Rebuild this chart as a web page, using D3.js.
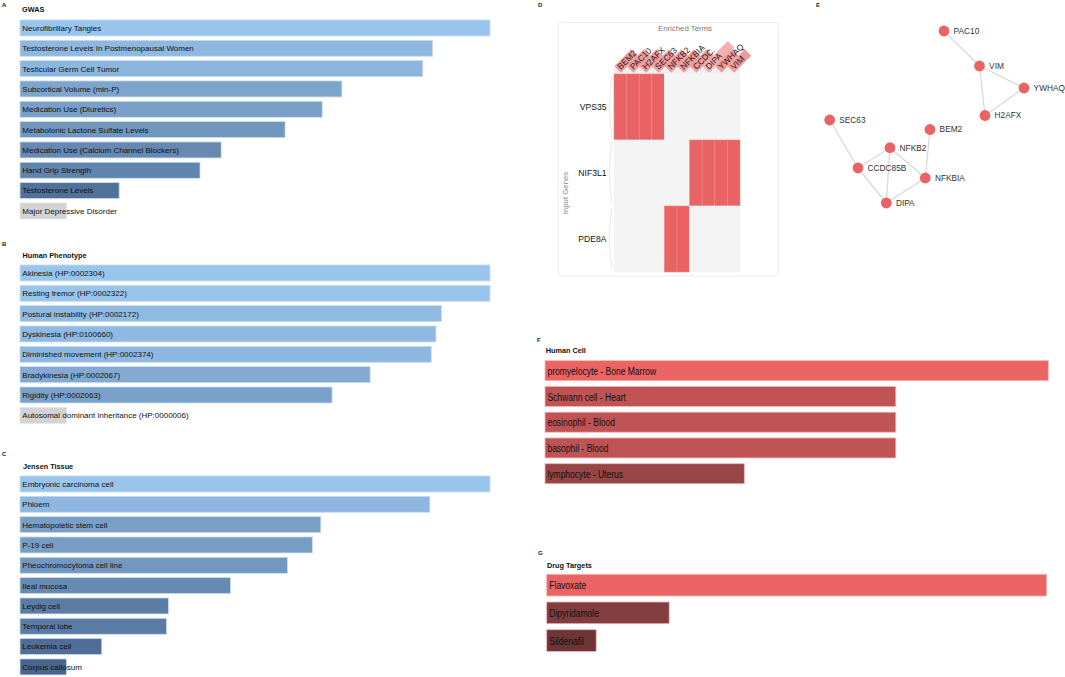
<!DOCTYPE html>
<html>
<head>
<meta charset="utf-8">
<script src="https://cdn.jsdelivr.net/npm/d3@7"></script>
<style>
body{margin:0;background:#fff;}
text{font-family:"Liberation Sans",Arial,sans-serif;}
</style>
</head>
<body>
<svg id="fig"></svg>
<script>
// ---- data ----
var gwasTerms=["Neurofibrillary Tangles","Testosterone Levels In Postmenopausal Women","Testicular Germ Cell Tumor",
"Subcortical Volume (min-P)","Medication Use (Diuretics)","Metabolonic Lactone Sulfate Levels",
"Medication Use (Calcium Channel Blockers)","Hand Grip Strength","Testosterone Levels","Major Depressive Disorder"];
var gwasScores=[100,87.8,85.7,68.5,64.3,56.4,42.8,38.3,21.1,9.9];
var gwasSignificant=[1,1,1,1,1,1,1,1,1,0];

var phenoTerms=["Akinesia (HP:0002304)","Resting tremor (HP:0002322)","Postural instability (HP:0002172)",
"Dyskinesia (HP:0100660)","Diminished movement (HP:0002374)","Bradykinesia (HP:0002067)",
"Rigidity (HP:0002063)","Autosomal dominant inheritance (HP:0000006)"];
var phenoScores=[100,100,89.7,88.5,87.5,74.5,66.4,9.9];
var phenoSignificant=[1,1,1,1,1,1,1,0];

var tissueTerms=["Embryonic carcinoma cell","Phloem","Hematopoietic stem cell","P-19 cell",
"Pheochromocytoma cell line","Ileal mucosa","Leydig cell","Temporal lobe","Leukemia cell","Corpus callosum"];
var tissueScores=[100,87.2,64.0,62.2,56.9,44.8,31.6,31.2,17.4,9.9];
var tissueSignificant=[1,1,1,1,1,1,1,1,1,1];

var cellTerms=["promyelocyte - Bone Marrow","Schwann cell - Heart","eosinophil - Blood","basophil - Blood","lymphocyte - Uterus"];
var cellScores=[100,69.7,69.7,69.7,39.6];

var drugTerms=["Flavoxate","Dipyridamole","Sildenafil"];
var drugScores=[100,24.5,9.9];

var inputGenes=["VPS35","NIF3L1","PDE8A"];
var enrichedTerms=["BEM2","PAC10","H2AFX","SEC63","NFKB2","NFKBIA","CCDC.","DIPA","YWHAQ","VIM"];
var membership=[
[1,1,1,1,0,0,0,0,0,0],
[0,0,0,0,0,0,1,1,1,1],
[0,0,0,0,1,1,0,0,0,0]];

var nodeNames=["PAC10","VIM","YWHAQ","H2AFX","SEC63","BEM2","NFKB2","CCDC85B","NFKBIA","DIPA"];
var nodeX=[124,159.5,204,165,9.7,110,70,38,105.3,66.3];
var nodeY=[11,46,68,95.5,100,109.5,127.7,148,158,183];
var edges=[["PAC10","VIM"],["VIM","YWHAQ"],["VIM","H2AFX"],["YWHAQ","H2AFX"],
["SEC63","CCDC85B"],["CCDC85B","NFKB2"],["CCDC85B","DIPA"],["NFKB2","NFKBIA"],
["NFKB2","DIPA"],["NFKBIA","DIPA"],["BEM2","NFKBIA"]];

var W=1065,H=677;
var svg=d3.select("#fig").attr("width",W).attr("height",H);

var blue=d3.scaleLinear().domain([0,100]).range(["#3f5b84","#99c5ed"]);
var red=d3.scaleLinear().domain([0,100]).range(["#603032","#ea6463"]);

var panelLetter=function(t,x,y){
  svg.append("text").attr("x",x).attr("y",y).text(t)
  .attr("font-size",6).attr("font-weight","bold").attr("fill","#222");
}
var panelTitle=function(t,x,y){
  svg.append("text").attr("x",x).attr("y",y).text(t)
  .attr("font-size",7.3).attr("font-weight","bold").attr("fill","#111");
}

var drawBars=function(o)
{
  var data=o.terms.map(function(t,i){return {term:t,score:o.scores[i],sig:o.sig?o.sig[i]:1};});
  var x=d3.scaleLinear().domain([0,d3.max(o.scores)]).range([0,o.x1-o.x0]);
  var y=d3.scaleBand().domain(o.terms).range([o.y0,o.y1]).paddingInner(o.pad).paddingOuter(o.pad/2);
  var g=svg.append("g");
  g.selectAll("rect")
  .data(data)
  .enter()
  .append("rect")
  .attr("x",o.x0)
  .attr("y",function(d){return y(d.term);})
  .attr("width",function(d){return x(d.score);})
  .attr("height",y.bandwidth())
  .attr("fill",function(d){return d.sig?o.color(d.score):"#d3d3d3";})
  .attr("stroke",function(d){return d.sig?o.stroke:"#e6e6e6";})
  .attr("stroke-width",0.8);
  g.selectAll("text")
  .data(data)
  .enter()
  .append("text")
  .attr("transform",function(d){
    return "translate("+(o.x0+o.tx)+","+(y(d.term)+y.bandwidth()/2)+") scale("+o.sx+",1)";})
  .attr("dy","0.36em")
  .attr("font-size",o.fs)
  .attr("fill","#111")
  .text(function(d){return d.term;});
}

// A, B, C
panelLetter("A",2,7);
panelTitle("GWAS",22,12.3);
drawBars({terms:gwasTerms,scores:gwasScores,sig:gwasSignificant,x0:20,x1:490,y0:17.8,y1:221.1,pad:0.213,
  color:blue,stroke:"#c9def3",fs:8,sx:1,tx:2.3});

panelLetter("B",2,245.5);
panelTitle("Human Phenotype",22.5,258);
drawBars({terms:phenoTerms,scores:phenoScores,sig:phenoSignificant,x0:20,x1:490,y0:262.8,y1:425.5,pad:0.213,
  color:blue,stroke:"#c9def3",fs:8,sx:1,tx:2.3});

panelLetter("C",2,456);
panelTitle("Jensen Tissue",23,469);
drawBars({terms:tissueTerms,scores:tissueScores,sig:tissueSignificant,x0:20,x1:490,y0:473.8,y1:677.1,pad:0.213,
  color:blue,stroke:"#c9def3",fs:8,sx:1,tx:2.3});

// F, G
panelLetter("F",537,342);
panelTitle("Human Cell",545.7,353.3);
drawBars({terms:cellTerms,scores:cellScores,x0:545,x1:1048.3,y0:357.8,y1:486.6,pad:0.223,
  color:red,stroke:"#f4b5b5",fs:11.5,sx:0.74,tx:2.4});

panelLetter("G",538,554.5);
panelTitle("Drug Targets",547,568);
drawBars({terms:drugTerms,scores:drugScores,x0:546.7,x1:1046.7,y0:571.3,y1:654.4,pad:0.217,
  color:red,stroke:"#f4b5b5",fs:11.5,sx:0.74,tx:2.6});

// D: clustergram
panelLetter("D",538,7);
svg.append("rect").attr("x",558.3).attr("y",22.7).attr("width",220).attr("height",253.3)
.attr("rx",3).attr("fill","#fff").attr("stroke","#e6e6e6").attr("stroke-width",0.8);
svg.append("text").attr("x",685).attr("y",31).attr("text-anchor","middle")
.attr("font-size",7.8).attr("fill","#777").text("Enriched Terms");
svg.append("text").attr("transform","translate(567.5,193) rotate(-90)").attr("text-anchor","middle")
.attr("font-size",7.8).attr("fill","#888").text("Input Genes");

var hx=d3.scaleBand().domain(enrichedTerms).range([614,740]);
var hy=d3.scaleBand().domain(inputGenes).range([74,272]);

svg.append("rect").attr("x",hx.range()[0]).attr("y",hy.range()[0]-6)
.attr("width",hx.range()[1]-hx.range()[0]).attr("height",6).attr("fill","#f0f0f0");

var cells=[];
inputGenes.forEach(function(gn,i){
  enrichedTerms.forEach(function(t,j){cells.push({gene:gn,term:t,v:membership[i][j]});});
});
svg.append("g").selectAll("rect")
.data(cells)
.enter()
.append("rect")
.attr("x",function(d){return hx(d.term);})
.attr("y",function(d){return hy(d.gene);})
.attr("width",hx.bandwidth())
.attr("height",hy.bandwidth())
.attr("fill",function(d){return d.v?"#e96264":"#f4f4f4";})
.attr("stroke",function(d){return d.v?"#ee8585":"#f4f4f4";})
.attr("stroke-width",0.6);

// row labels with faint brackets
var rows=svg.append("g").selectAll("g").data(inputGenes).enter().append("g");
rows.append("text")
.attr("x",606.5)
.attr("y",function(d){return hy(d)+hy.bandwidth()/2;})
.attr("dy","0.35em")
.attr("text-anchor","end")
.attr("font-size",8.6)
.attr("fill","#111")
.text(function(d){return d;});
rows.append("path")
.attr("d",function(d){
  var t=hy(d)+2,b=hy(d)+hy.bandwidth()-2,m=(t+b)/2;
  return "M612,"+t+" Q607,"+m+" 612,"+b;})
.attr("fill","none").attr("stroke","#e2e2e2").attr("stroke-width",0.8);

// column labels, rotated, with pink boxes
var cols=svg.append("g").selectAll("g")
.data(enrichedTerms)
.enter()
.append("g")
.attr("transform",function(d){return "translate("+(hx(d)+hx.bandwidth()/2+1.5)+",71) rotate(-45)";});
cols.append("rect")
.attr("x",-2).attr("y",-8.6)
.attr("width",function(d){return d=="DIPA"?36:24;})
.attr("height",9.2)
.attr("fill",function(d){return d=="DIPA"?"#f6b0b0":"#f09c9c";});
cols.append("text")
.attr("x",0).attr("y",-1.4)
.attr("font-size",8.5)
.attr("fill","#2a1414")
.text(function(d){return d;});

// E: network
panelLetter("E",816,6.7);
var nx=d3.scaleLinear().domain([0,210]).range([820,1030]);
var ny=d3.scaleLinear().domain([0,200]).range([20,220]);
var nodes=nodeNames.map(function(n,i){return {name:n,x:nodeX[i],y:nodeY[i]};});
var byName={};
nodes.forEach(function(n){byName[n.name]=n;});

svg.append("g").selectAll("line")
.data(edges)
.enter()
.append("line")
.attr("x1",function(d){return nx(byName[d[0]].x);})
.attr("y1",function(d){return ny(byName[d[0]].y);})
.attr("x2",function(d){return nx(byName[d[1]].x);})
.attr("y2",function(d){return ny(byName[d[1]].y);})
.attr("stroke","#d9d9d9")
.attr("stroke-width",1.3);

var ng=svg.append("g").selectAll("g")
.data(nodes)
.enter()
.append("g")
.attr("transform",function(d){return "translate("+nx(d.x)+","+ny(d.y)+")";});
ng.append("circle").attr("r",5.4).attr("fill","#e96264");
ng.append("text")
.attr("x",9.6).attr("dy","0.35em")
.attr("font-size",8.3)
.attr("fill","#333")
.text(function(d){return d.name;});
</script>
</body>
</html>
